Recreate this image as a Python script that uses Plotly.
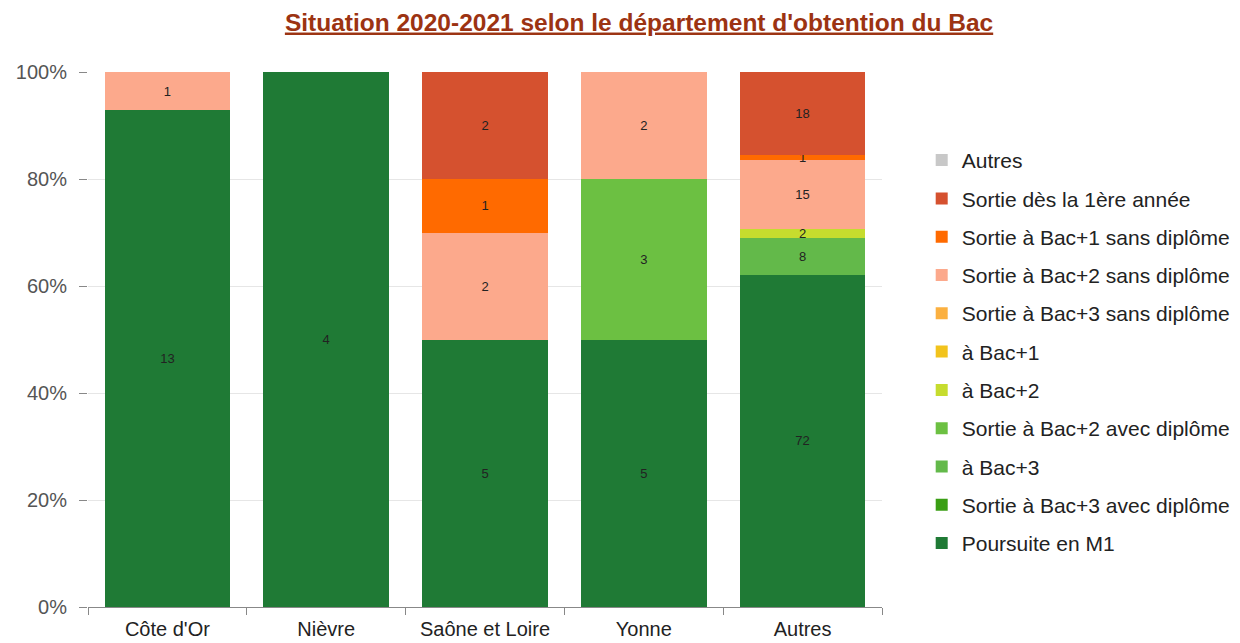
import plotly.graph_objects as go

departements = ["Côte d'Or", "Nièvre", "Saône et Loire", "Yonne", "Autres"]

# effectifs par situation (bas de la pile en premier)
poursuite_m1 = [13, 4, 5, 5, 72]
sortie_bac3_avec = [0, 0, 0, 0, 0]
a_bac3 = [0, 0, 0, 0, 8]
sortie_bac2_avec = [0, 0, 0, 3, 0]
a_bac2 = [0, 0, 0, 0, 2]
a_bac1 = [0, 0, 0, 0, 0]
sortie_bac3_sans = [0, 0, 0, 0, 0]
sortie_bac2_sans = [1, 0, 2, 2, 15]
sortie_bac1_sans = [0, 0, 1, 0, 1]
sortie_1ere = [0, 0, 2, 0, 18]
autres = [0, 0, 0, 0, 0]

series = [
    ("Poursuite en M1", poursuite_m1, "#1f7a35"),
    ("Sortie à Bac+3 avec diplôme", sortie_bac3_avec, "#3a9e14"),
    ("à Bac+3", a_bac3, "#63b94a"),
    ("Sortie à Bac+2 avec diplôme", sortie_bac2_avec, "#6cc042"),
    ("à Bac+2", a_bac2, "#c6dc2e"),
    ("à Bac+1", a_bac1, "#f2c31c"),
    ("Sortie à Bac+3 sans diplôme", sortie_bac3_sans, "#fbb040"),
    ("Sortie à Bac+2 sans diplôme", sortie_bac2_sans, "#fca98c"),
    ("Sortie à Bac+1 sans diplôme", sortie_bac1_sans, "#ff6a00"),
    ("Sortie dès la 1ère année", sortie_1ere, "#d5512f"),
    ("Autres", autres, "#c8c8c8"),
]

fig = go.Figure()
for i, (name, vals, color) in enumerate(series):
    fig.add_trace(go.Bar(
        x=departements,
        y=vals,
        name=name,
        legendgroup=name,
        legendrank=100 - i,  # legend lists the top of the stack first
        marker=dict(color=color, line=dict(width=0)),
        text=[str(v) if v else "" for v in vals],
        textposition="inside",
        insidetextanchor="middle",
        textangle=0,
        constraintext="none",
        textfont=dict(size=13, color="#222222"),
    ))

fig.update_layout(
    barmode="stack",
    barnorm="percent",
    bargap=0.21,
    width=1240,
    height=635,
    margin=dict(l=80, r=366, t=64, b=36),
    plot_bgcolor="white",
    paper_bgcolor="white",
    font=dict(family="Liberation Sans, Arial, sans-serif", color="#222222"),
    title=dict(
        text="<b><u>Situation 2020-2021 selon le département d'obtention du Bac</u></b>",
        x=0.5089,
        xanchor="center",
        y=0.978,
        yanchor="middle",
        font=dict(size=24.5, color="#9c3312"),
    ),
    legend=dict(
        x=1.05,
        y=0.873,
        xanchor="left",
        yanchor="top",
        traceorder="grouped",
        tracegroupgap=8,
        font=dict(size=21, color="#222222"),
    ),
)

fig.update_xaxes(
    showline=True,
    linecolor="#888888",
    ticks="outside",
    tickson="boundaries",
    ticklen=7,
    tickcolor="#888888",
    ticklabelstandoff=4,
    tickfont=dict(size=20, color="#222222"),
    automargin=False,
)
fig.update_yaxes(
    range=[0, 100],
    dtick=20,
    ticksuffix="%",
    showgrid=True,
    gridcolor="#e6e6e6",
    zeroline=False,
    ticks="outside",
    ticklen=8,
    tickcolor="#888888",
    ticklabelstandoff=8,
    tickfont=dict(size=20, color="#555555"),
    automargin=False,
)

fig.write_html("out.html")
